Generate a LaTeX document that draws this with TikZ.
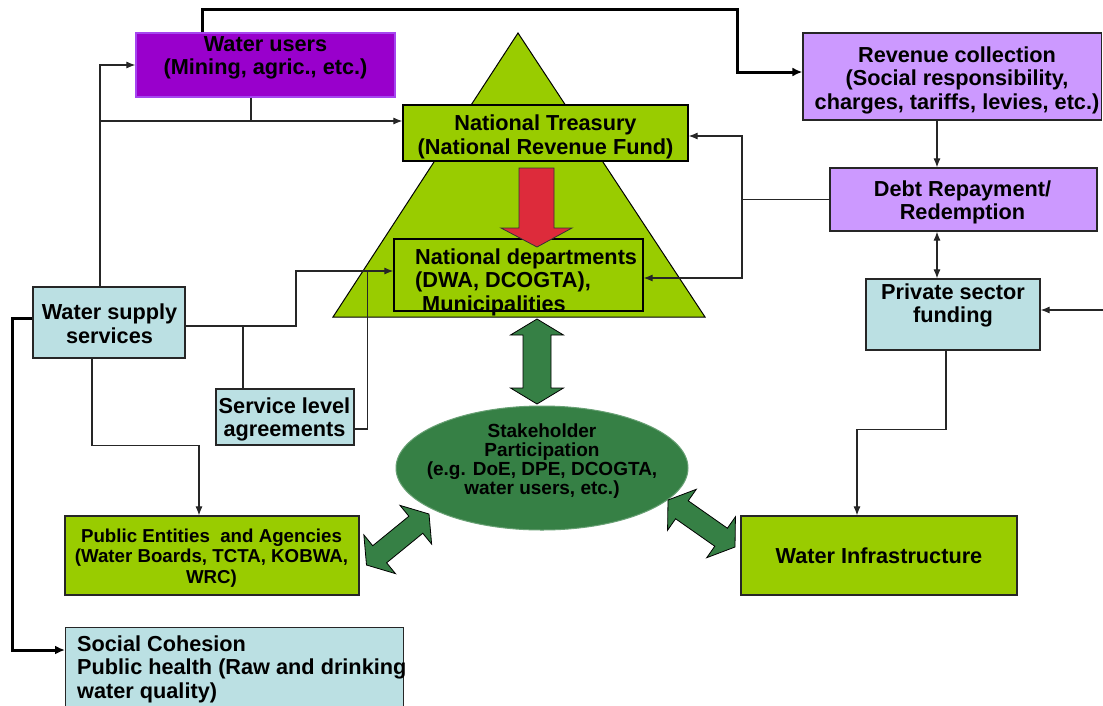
\documentclass[tikz,border=0pt]{standalone}
\usepackage{fontspec}
\setmainfont{Liberation Sans}
\usetikzlibrary{arrows.meta,calc,shapes.geometric}

\definecolor{wupurple}{HTML}{9900CC}
\definecolor{wuedge}{HTML}{A646F0}
\definecolor{lilac}{HTML}{CC99FF}
\definecolor{aqua}{HTML}{BBE0E3}
\definecolor{leaf}{HTML}{99CC00}
\definecolor{forest}{HTML}{368045}
\definecolor{alarm}{HTML}{DD2B3B}
\definecolor{wire}{HTML}{262626}

\tikzset{
  box/.style={rectangle, draw=wire, line width=1.2pt, inner sep=0pt},
  txt/.style={font=\fontsize{21.7}{23.5}\selectfont\bfseries, align=center, inner sep=0pt},
  smalltxt/.style={font=\fontsize{18.7}{20.5}\selectfont\bfseries, align=center, inner sep=0pt},
  conn/.style={draw=wire, line width=1.1pt},
  heavy/.style={draw=black, line width=3pt},
  tip/.style={-{Latex[length=9pt,width=7pt]}},
  tips/.style={{Latex[length=9pt,width=7pt]}-{Latex[length=9pt,width=7pt]}},
  heavytip/.style={-{Latex[length=10pt,width=9pt]}},
  dbl/.style={fill=forest, draw=black, line width=0.8pt, line join=miter},
}

% two-headed block arrow from #1 to #2:
% head length #3, head half width #4, shaft half width #5
\newcommand\dblarrow[5]{%
  \coordinate (da1) at ($(#1)!#3!(#2)$);
  \coordinate (da2) at ($(#2)!#3!(#1)$);
  \filldraw[dbl] (#1)
    -- ($(da1)!#4!90:(#2)$) -- ($(da1)!#5!90:(#2)$)
    -- ($(da2)!#5!-90:(#1)$) -- ($(da2)!#4!-90:(#1)$)
    -- (#2)
    -- ($(da2)!#4!90:(#1)$) -- ($(da2)!#5!90:(#1)$)
    -- ($(da1)!#5!-90:(#2)$) -- ($(da1)!#4!-90:(#2)$)
    -- cycle;}

\begin{document}
\begin{tikzpicture}[x=1pt,y=-1pt]
\useasboundingbox (0,0) rectangle (1103,705);
\clip (0,0) rectangle (1103,705);
\fill[white] (0,0) rectangle (1103,705);

% government pyramid
\filldraw[fill=leaf, draw=black, line width=1pt] (333,317) -- (518,33) -- (705,317) -- cycle;

% boxes and their captions
\node[box, fill=wupurple, draw=wuedge, minimum width=259pt, minimum height=64pt] (wu) at (265.5,65) {};
\node[txt] (wu-t) at (265.5,58) {Water users\\(Mining, agric., etc.)};

\node[box, fill=lilac, minimum width=298.5pt, minimum height=87pt] (rc) at (952.25,76.5) {};
\node[txt] (rc-t) at (957,80) {Revenue collection\\(Social responsibility,\\charges, tariffs, levies, etc.)};

\node[box, fill=leaf, draw=black, minimum width=285pt, minimum height=56pt] (nt) at (545.5,133) {};
\node[txt] (nt-t) at (545.5,137) {National Treasury\\(National Revenue Fund)};

\node[box, fill=lilac, minimum width=267pt, minimum height=63pt] (debt) at (963.5,199.5) {};
\node[txt] (debt-t) at (962.5,202.5) {Debt Repayment/\\Redemption};

\node[box, fill=leaf, draw=black, minimum width=249pt, minimum height=72pt] (nd) at (518.5,275) {};
\node[txt, align=left, anchor=west] (nd-t) at (415,282) {National departments\\(DWA, DCOGTA),\\\hspace*{7pt}Municipalities};

\node[box, fill=aqua, minimum width=174pt, minimum height=71pt] (psf) at (953,314.5) {};
\node[txt] (psf-t) at (953,305.5) {Private sector\\funding};

\node[box, fill=aqua, minimum width=152pt, minimum height=71pt] (ws) at (109,322.5) {};
\node[txt] (ws-t) at (109.5,323.5) {Water supply\\services};

\node[box, fill=aqua, minimum width=138pt, minimum height=56pt] (sla) at (285,417) {};
\node[txt] (sla-t) at (284.5,419.5) {Service level\\agreements};

\node[box, fill=leaf, minimum width=294pt, minimum height=79pt] (pe) at (212,555.5) {};
\node[smalltxt] (pe-t) at (211.5,558) {Public Entities \ and Agencies\\(Water Boards, TCTA, KOBWA,\\WRC)};

\node[box, fill=leaf, minimum width=276pt, minimum height=79pt] (wi) at (879,555.5) {};
\node[txt] (wi-t) at (879,556) {Water Infrastructure};

\node[box, fill=aqua, anchor=north west, minimum width=338pt, minimum height=100pt] (sc) at (65,627) {};
\node[txt, align=left, anchor=west] (sc-t) at (77,669) {Social Cohesion\\Public health (Raw and drinking\\water quality)};

% stakeholder ellipse
\node[ellipse, fill=forest, draw=forest!75!white, line width=1pt, minimum width=292pt, minimum height=124pt, inner sep=0pt] (st) at (542,468) {};
\node[font=\fontsize{19}{18.9}\selectfont\bfseries, align=center, inner sep=0pt] (st-t) at (542,461) {Stakeholder\\Participation\\(e.g. DoE, DPE, DCOGTA,\\water users, etc.)};

% funds flow from the Treasury to the departments
\filldraw[fill=alarm, draw=black!80, line width=0.8pt] (519,168) -- (554,168) -- (554,228) -- (572,228) -- (537,247) -- (501,228) -- (519,228) -- cycle;

% two-way block arrows around the stakeholders
\coordinate (v1) at (537,319);
\coordinate (v2) at (537,404);
\dblarrow{v1}{v2}{16pt}{26.5pt}{14pt}
\coordinate (l1) at (429,514);
\coordinate (l2) at (366.5,565);
\dblarrow{l1}{l2}{17pt}{25pt}{11pt}
\coordinate (r1) at (668,500);
\coordinate (r2) at (735,547);
\dblarrow{r1}{r2}{17pt}{25pt}{11pt}

% heavy connectors
\draw[heavy, heavytip] ([xshift=67pt]wu.north west) -- ++(0,-23) -| (737,72) -- ([yshift=4.5pt]rc.west);
\draw[heavy, heavytip] ([yshift=4.5pt]ws.west) -| (12,480) |- ([yshift=-23pt]sc.north west);

% thin connectors
\draw[conn, tip] ([xshift=-9pt]ws.north) |- (wu.west);
\draw[conn, tip] ([xshift=-9pt]ws.north) |- ([yshift=12pt]nt.west);
\draw[conn] ([xshift=-14.5pt]wu.south) -- ++(0,24);
\draw[conn, tip] ([yshift=-3.5pt]ws.east) -| (296,300) |- ([yshift=4pt]nd.west);
\draw[conn] ([xshift=-42pt]sla.north) |- ([yshift=-3.5pt]ws.east);
\draw[conn] ([yshift=-12pt]sla.east) -| ([xshift=-26pt,yshift=4pt]nd.west);
\draw[conn, tip] ([xshift=-17pt]ws.south) -- ++(0,87) -| ([xshift=-13pt]pe.north);
\draw[conn, tip] ([xshift=-15.25pt]rc.south) -- ([xshift=-26.5pt]debt.north);
\draw[conn, tips] ([xshift=-26.5pt]debt.south) -- ([xshift=-16pt]psf.north);
\draw[conn, tip] (debt.west) -| (742,170) |- ([yshift=-3pt]nt.east);
\draw[conn, tip] (debt.west) -| (742,230) |- ([yshift=-3pt]nd.east);
\coordinate (inflow) at (1103,310);
\draw[conn, tip] (inflow) -- ([yshift=4.5pt]psf.east);
\draw[conn, tip] ([xshift=-7pt]psf.south) -- ++(0,79) -| ([xshift=-22pt]wi.north);
\end{tikzpicture}
\end{document}
